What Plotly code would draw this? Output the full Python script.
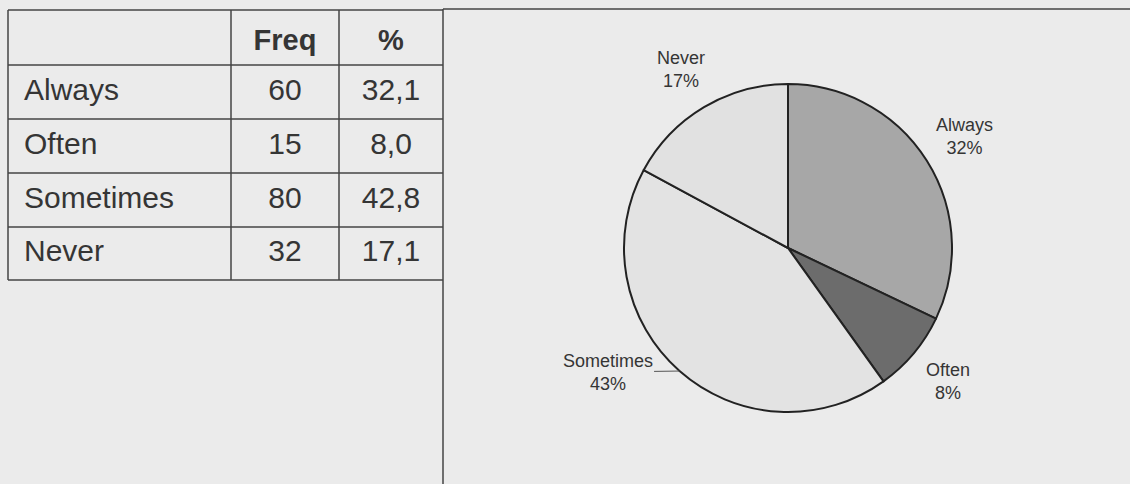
import math
import plotly.graph_objects as go

categories = ["Always", "Often", "Sometimes", "Never"]
freq = [60, 15, 80, 32]
pct_text = ["32,1", "8,0", "42,8", "17,1"]
header = ["", "Freq", "%"]

W, H = 1130, 484
BG = "#ebebeb"
TXT = "#353535"
GRID = "#454545"
FONT = "Liberation Sans, Arial, sans-serif"

# table layout (pixels)
col_edges = [8, 231, 339, 443]
row_edges = [10, 65, 119, 173, 227, 280]

fig = go.Figure()

shapes = []
for x in col_edges[:-1]:
    shapes.append(dict(type="line", xref="x", yref="y", x0=x, x1=x,
                       y0=row_edges[0], y1=row_edges[-1], line=dict(color=GRID, width=1.5)))
for y in row_edges:
    shapes.append(dict(type="line", xref="x", yref="y", x0=col_edges[0], x1=col_edges[-1],
                       y0=y, y1=y, line=dict(color=GRID, width=1.5)))
# frame of the chart panel
shapes.append(dict(type="line", xref="x", yref="y", x0=443, x1=443, y0=9, y1=H,
                   line=dict(color=GRID, width=1.5)))
shapes.append(dict(type="line", xref="x", yref="y", x0=443, x1=W, y0=9, y1=9,
                   line=dict(color=GRID, width=1.5)))

row_mid = [(row_edges[i] + row_edges[i + 1]) / 2 for i in range(len(row_edges) - 1)]

# header text
fig.add_trace(go.Scatter(
    x=[(col_edges[1] + col_edges[2]) / 2, (col_edges[2] + col_edges[3]) / 2],
    y=[row_mid[0] + 5, row_mid[0] + 5],
    text=["<b>" + h + "</b>" for h in header[1:]],
    mode="text", textposition="middle center",
    textfont=dict(family=FONT, size=29, color=TXT),
    hoverinfo="skip", showlegend=False,
))
# category column
fig.add_trace(go.Scatter(
    x=[col_edges[0] + 16] * len(categories), y=row_mid[1:],
    text=categories, mode="text", textposition="middle right",
    textfont=dict(family=FONT, size=30, color=TXT),
    hoverinfo="skip", showlegend=False,
))
# freq column
fig.add_trace(go.Scatter(
    x=[(col_edges[1] + col_edges[2]) / 2] * len(freq), y=row_mid[1:],
    text=[str(v) for v in freq], mode="text", textposition="middle center",
    textfont=dict(family=FONT, size=30, color=TXT),
    hoverinfo="skip", showlegend=False,
))
# percent column
fig.add_trace(go.Scatter(
    x=[(col_edges[2] + col_edges[3]) / 2] * len(pct_text), y=row_mid[1:],
    text=pct_text, mode="text", textposition="middle center",
    textfont=dict(family=FONT, size=30, color=TXT),
    hoverinfo="skip", showlegend=False,
))

# pie
cx, cy, r = 788, 248, 164
fig.add_trace(go.Pie(
    labels=categories,
    values=freq,
    sort=False,
    direction="clockwise",
    rotation=0,
    domain=dict(x=[(cx - r) / W, (cx + r) / W], y=[1 - (cy + r) / H, 1 - (cy - r) / H]),
    marker=dict(colors=["#a7a7a7", "#6c6c6c", "#e3e3e3", "#e1e1e1"],
                line=dict(color="#222222", width=2)),
    textposition="none",
    showlegend=False,
    hoverinfo="label+value+percent",
))

# pie labels placed at slice mid-angles
total = sum(freq)
annotations = []
cum = 0
for name, v in zip(categories, freq):
    theta = 2 * math.pi * (cum + v / 2) / total
    cum += v
    pct = round(100 * v / total)
    txt = f"{name}<br>{pct}%"
    dx, dy = math.sin(theta), -math.cos(theta)
    if name == "Sometimes":
        ex, ey = cx + r * dx, cy + r * dy
        annotations.append(dict(
            x=ex, y=ey, xref="x", yref="y", text=txt, showarrow=True,
            ax=-72, ay=1, arrowhead=0, arrowwidth=1, arrowcolor="#555555",
            standoff=0, startstandoff=0,
            font=dict(family=FONT, size=18, color=TXT), align="center"))
    else:
        annotations.append(dict(
            x=cx + 1.27 * r * dx, y=cy + 1.27 * r * dy, xref="x", yref="y",
            text=txt, showarrow=False,
            font=dict(family=FONT, size=18, color=TXT), align="center"))

fig.update_layout(
    width=W, height=H,
    margin=dict(l=0, r=0, t=0, b=0),
    paper_bgcolor=BG,
    plot_bgcolor=BG,
    showlegend=False,
    xaxis=dict(range=[0, W], visible=False, fixedrange=True),
    yaxis=dict(range=[H, 0], visible=False, fixedrange=True),
    shapes=shapes,
    annotations=annotations,
)

fig.write_html("out.html")
